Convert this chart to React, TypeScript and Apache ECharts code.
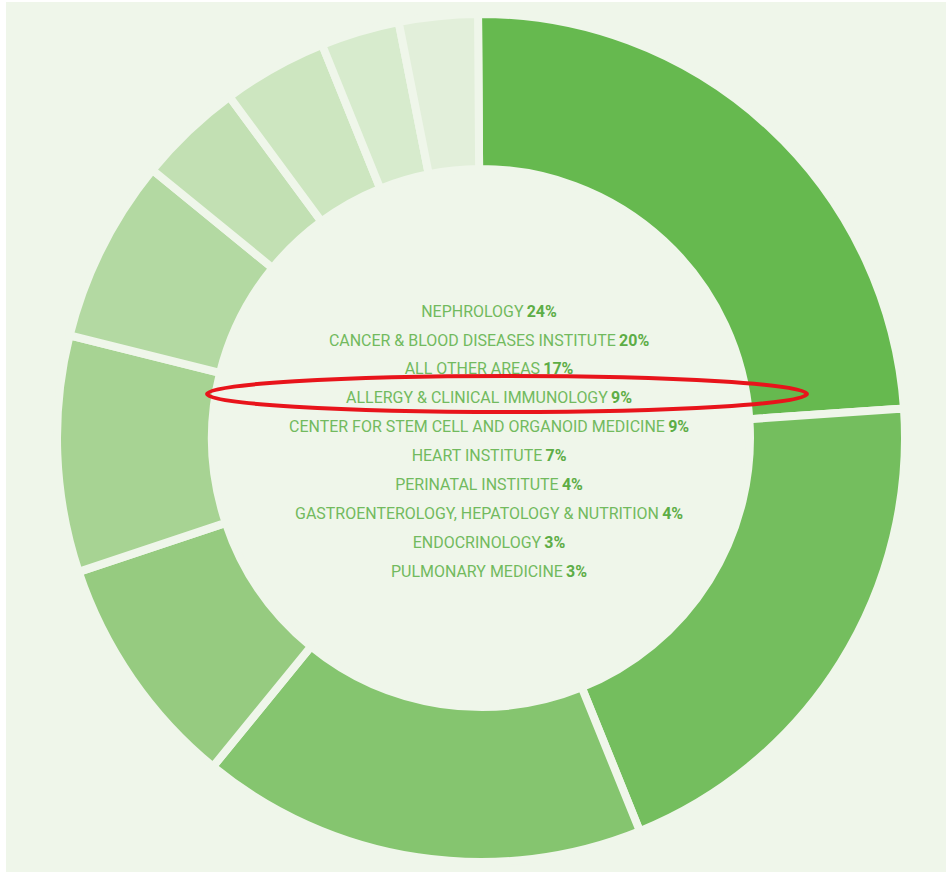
import React, { useEffect, useRef } from "react";
import * as echarts from "echarts";

const categories = [
  "NEPHROLOGY",
  "CANCER & BLOOD DISEASES INSTITUTE",
  "ALL OTHER AREAS",
  "ALLERGY & CLINICAL IMMUNOLOGY",
  "CENTER FOR STEM CELL AND ORGANOID MEDICINE",
  "HEART INSTITUTE",
  "PERINATAL INSTITUTE",
  "GASTROENTEROLOGY, HEPATOLOGY & NUTRITION",
  "ENDOCRINOLOGY",
  "PULMONARY MEDICINE",
];
const values = [24, 20, 17, 9, 9, 7, 4, 4, 3, 3];
const colors = [
  "#66b94f",
  "#74be5e",
  "#85c56f",
  "#96cb80",
  "#a7d393",
  "#b3d9a2",
  "#c2e0b3",
  "#cde6c0",
  "#d7ebcd",
  "#e2efda",
];

const BG = "#eff6ea";
const FONT = "Roboto, 'Noto Sans', sans-serif";

export default function App() {
  const ref = useRef<HTMLDivElement>(null);
  useEffect(() => {
    if (!ref.current) return;
    const chart = echarts.init(ref.current, null, { renderer: "svg" });
    const textEls = categories.map((name, i) => ({
      type: "text",
      x: 489,
      y: 311 + i * 28.9,
      scaleX: 0.94,
      z: 100,
      silent: true,
      style: {
        text: `{n|${name}} {p|${values[i]}%}`,
        align: "center",
        verticalAlign: "middle",
        rich: {
          n: { fontFamily: FONT, fontSize: 17, fill: "#72ba5e" },
          p: { fontFamily: FONT, fontSize: 17, fontWeight: "bold", fill: "#5dad46" },
        },
      },
    }));
    chart.setOption({
      animation: false,
      backgroundColor: BG,
      graphic: [
        { type: "rect", shape: { x: 0, y: 0, width: 6, height: 872 }, style: { fill: "#ffffff" }, z: 0 },
        { type: "rect", shape: { x: 0, y: 0, width: 946, height: 2 }, style: { fill: "#ffffff" }, z: 0 },
        ...textEls,
        {
          type: "ellipse",
          z: 110,
          silent: true,
          shape: { cx: 507, cy: 394, rx: 300, ry: 18 },
          style: { fill: "transparent", stroke: "#e8141b", lineWidth: 4 },
        },
      ],
      series: [
        {
          type: "pie",
          center: [481, 438],
          radius: [269, 424],
          startAngle: 90.4,
          clockwise: true,
          silent: true,
          label: { show: false },
          labelLine: { show: false },
          emphasis: { disabled: true },
          itemStyle: { borderColor: BG, borderWidth: 8 },
          data: categories.map((name, i) => ({
            name,
            value: values[i],
            itemStyle: { color: colors[i] },
          })),
        },
      ],
    });
    return () => chart.dispose();
  }, []);
  return (
    <div
      ref={ref}
      style={{ position: "absolute", left: 0, top: 0, width: 946, height: 872 }}
    />
  );
}
